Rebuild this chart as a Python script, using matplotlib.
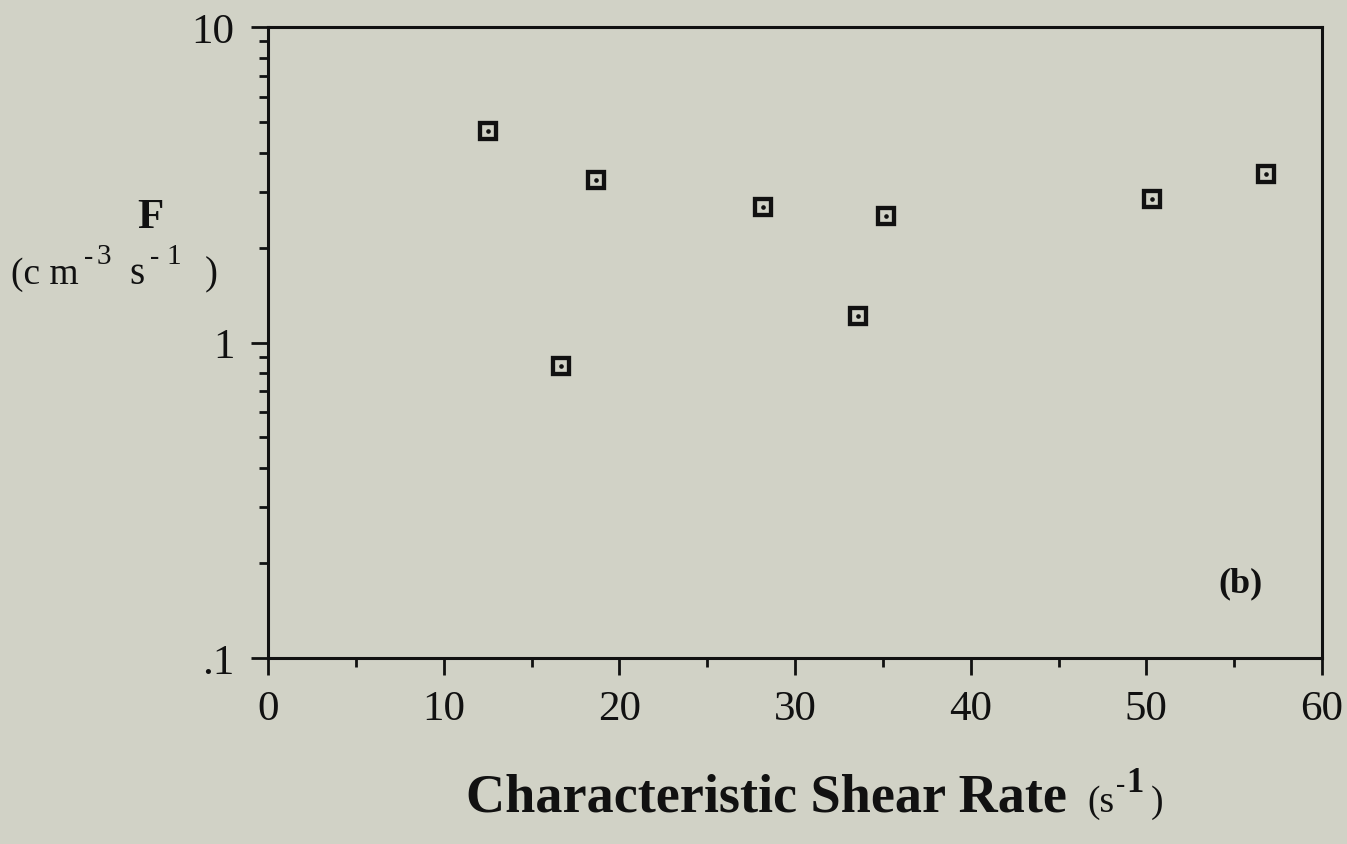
import matplotlib
matplotlib.use("Agg")
import matplotlib.pyplot as plt
from matplotlib.ticker import FixedLocator, FixedFormatter, LogLocator, NullFormatter, MultipleLocator

shear_rate = [12.5, 16.7, 18.7, 28.2, 33.6, 35.2, 50.3, 56.8]
F_values = [4.68, 0.84, 3.27, 2.68, 1.21, 2.51, 2.84, 3.41]
x_ticks = [0, 10, 20, 30, 40, 50, 60]
y_ticks = [0.1, 1, 10]
y_tick_labels = [".1", "1", "10"]

bg = "#D1D2C6"
ink = "#111111"
plt.rcParams['font.family'] = ['Liberation Serif', 'DejaVu Serif']

W, H = 1347, 845
fig = plt.figure(figsize=(W / 100, H / 100), dpi=100, facecolor=bg)
ax = fig.add_axes([268 / W, 186 / H, (1322 - 268) / W, (659 - 28) / H])
ax.set_facecolor(bg)

ax.plot(shear_rate, F_values, linestyle='none', marker='s', markersize=11,
        markerfacecolor=bg, markeredgecolor=ink, markeredgewidth=3.1, zorder=3)
ax.plot(shear_rate, F_values, linestyle='none', marker='o', markersize=2.3,
        color=ink, zorder=4)

ax.set_yscale('log')
ax.set_xlim(0, 60)
ax.set_ylim(0.1, 10)

ax.xaxis.set_major_locator(FixedLocator(x_ticks))
ax.xaxis.set_minor_locator(MultipleLocator(5))
ax.yaxis.set_major_locator(FixedLocator(y_ticks))
ax.yaxis.set_major_formatter(FixedFormatter(y_tick_labels))
ax.yaxis.set_minor_locator(LogLocator(base=10, subs=range(2, 10)))
ax.yaxis.set_minor_formatter(NullFormatter())

for s in ax.spines.values():
    s.set_linewidth(2.2)
    s.set_color(ink)

ax.tick_params(axis='both', which='major', direction='out', length=12, width=2.0,
               color=ink, labelsize=31, labelcolor=ink)
ax.tick_params(axis='y', which='major', pad=12)
ax.tick_params(axis='x', which='major', pad=11)
ax.tick_params(axis='both', which='minor', direction='out', length=6.5, width=2.0,
               color=ink)
ax.tick_params(top=False, right=False, which='both')


def put(x, y, s, size, weight='normal', ha='left', va='baseline'):
    return fig.text(x / W, 1 - y / H, s, fontsize=size, fontweight=weight,
                    ha=ha, va=va, color=ink)


# y-axis label
put(150, 228, "F", 31, 'bold', ha='center')
put(11, 284, "(c m", 27)
put(84, 264, "-", 20)
put(97, 264, "3", 21)
put(129, 284, "s", 28)
put(150, 264, "-", 20)
put(166, 264, "1", 21)
put(205, 284, ")", 28)

# x-axis label
put(466, 812, "Characteristic Shear Rate", 39, 'bold')
put(1087, 812, "(s", 27)
put(1116, 792, "-", 20)
put(1126, 792, "1", 25, 'bold')
put(1151, 812, ")", 27)

# panel tag
put(1240, 592, "(b)", 26, 'bold', ha='center')

fig.savefig("out.png", dpi=100, facecolor=bg)
